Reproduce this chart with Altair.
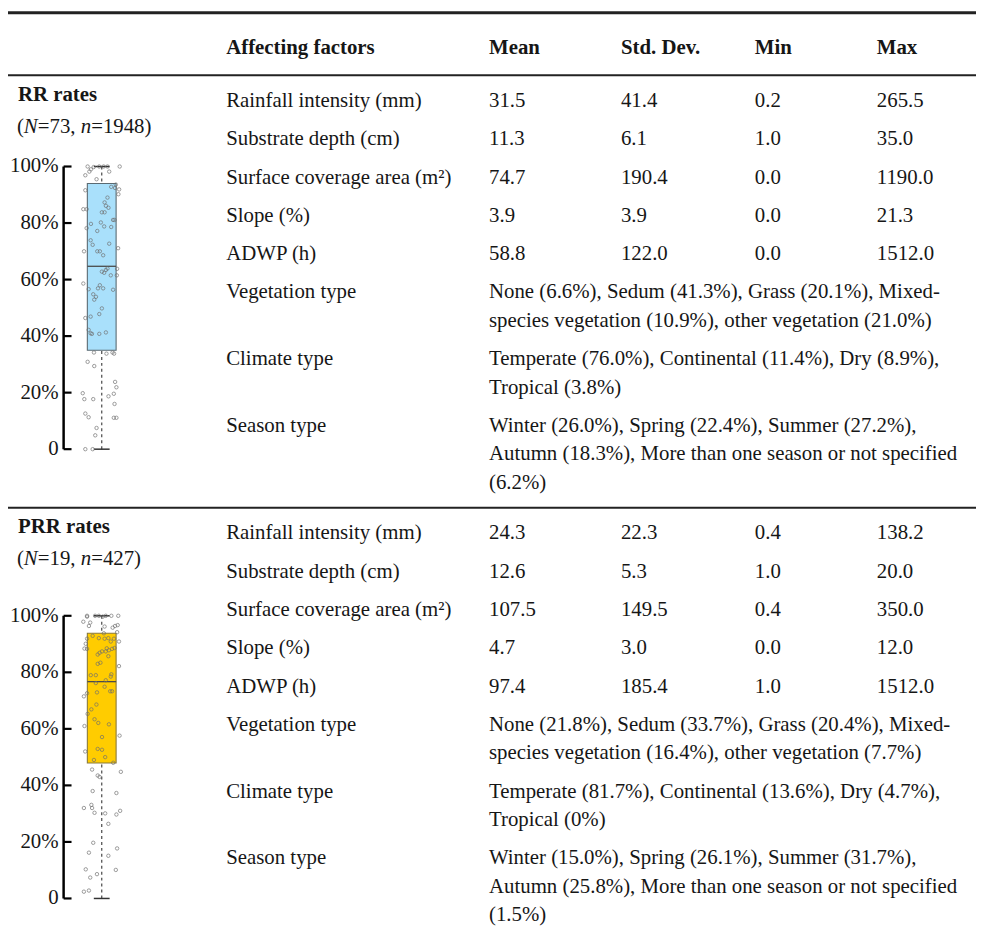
import altair as alt
import pandas as pd

# ------------------------------------------------------------------ data
headers = ["Affecting factors", "Mean", "Std. Dev.", "Min", "Max"]
factors = ["Rainfall intensity (mm)", "Substrate depth (cm)",
           "Surface coverage area (m²)", "Slope (%)", "ADWP (h)"]
cat_factors = ["Vegetation type", "Climate type", "Season type"]

rr_mean = [31.5, 11.3, 74.7, 3.9, 58.8]
rr_sd = [41.4, 6.1, 190.4, 3.9, 122.0]
rr_min = [0.2, 1.0, 0.0, 0.0, 0.0]
rr_max = [265.5, 35.0, 1190.0, 21.3, 1512.0]

prr_mean = [24.3, 12.6, 107.5, 4.7, 97.4]
prr_sd = [22.3, 5.3, 149.5, 3.0, 185.4]
prr_min = [0.4, 1.0, 0.4, 0.0, 1.0]
prr_max = [138.2, 20.0, 350.0, 12.0, 1512.0]

rr_cat = [
    ["None (6.6%), Sedum (41.3%), Grass (20.1%), Mixed-",
     "species vegetation (10.9%), other vegetation (21.0%)"],
    ["Temperate (76.0%), Continental (11.4%), Dry (8.9%),",
     "Tropical (3.8%)"],
    ["Winter (26.0%), Spring (22.4%), Summer (27.2%),",
     "Autumn (18.3%), More than one season or not specified",
     "(6.2%)"],
]
prr_cat = [
    ["None (21.8%), Sedum (33.7%), Grass (20.4%), Mixed-",
     "species vegetation (16.4%), other vegetation (7.7%)"],
    ["Temperate (81.7%), Continental (13.6%), Dry (4.7%),",
     "Tropical (0%)"],
    ["Winter (15.0%), Spring (26.1%), Summer (31.7%),",
     "Autumn (25.8%), More than one season or not specified",
     "(1.5%)"],
]

rr_title = "RR rates"
rr_sub = [("(", "n"), ("N", "i"), ("=73, ", "n"), ("n", "i"), ("=1948)", "n")]
prr_title = "PRR rates"
prr_sub = [("(", "n"), ("N", "i"), ("=19, ", "n"), ("n", "i"), (" =427)", "n")]

# box statistics (fraction)
rr_stats = {"lo": 0.0, "q1": 0.35, "med": 0.647, "q3": 0.94, "hi": 1.0}
prr_stats = {"lo": 0.0, "q1": 0.479, "med": 0.767, "q3": 0.938, "hi": 1.0}

# individual points: horizontal jitter (box half-widths) and value
rr_jit = [-0.98, -0.56, -0.17, 0.13, 0.40, 1.25, -0.86, -0.75, 0.52, -1.14,
          -0.36, 0.66, 0.93, 1.21, 0.98, -1.14, 1.16, 0.40, 0.20, 0.29,
          0.47, -1.28, -1.05, 0.01, 0.20, 0.79, 0.89, -0.75, -1.05, -0.06,
          0.17, 0.66, -0.31, -0.77, -0.63, 0.52, -1.23, -0.31, -0.13, 0.10,
          1.14, 1.07, 0.40, 0.29, 0.01, 0.17, 0.63, 1.05, -1.28, -0.13,
          -0.91, -0.26, 0.10, 0.79, -0.59, -0.40, -0.52, 0.01, -0.17, -1.14,
          -0.77, -0.91, -0.77, -0.68, -0.17, 0.29, -0.54, 0.33, 0.75, 0.86,
          -0.98, -0.52, -1.32, -1.21, -0.59, 0.47, 0.84, 0.93, 1.02, 0.89,
          -1.14, -0.91, 0.84, 1.02, -0.36, -0.45, -1.14, -0.63]
rr_val = [1.00, 0.998, 1.00, 1.00, 1.00, 1.00, 0.982, 0.99, 0.982, 0.969,
          0.955, 0.928, 0.924, 0.919, 0.936, 0.916, 0.902, 0.89, 0.873, 0.861,
          0.854, 0.849, 0.849, 0.838, 0.838, 0.811, 0.811, 0.797, 0.782, 0.802,
          0.788, 0.786, 0.772, 0.739, 0.723, 0.727, 0.70, 0.70, 0.70, 0.686,
          0.711, 0.638, 0.639, 0.634, 0.628, 0.624, 0.615, 0.615, 0.586, 0.58,
          0.566, 0.569, 0.569, 0.564, 0.548, 0.539, 0.529, 0.498, 0.478, 0.464,
          0.469, 0.422, 0.41, 0.408, 0.408, 0.413, 0.342, 0.338, 0.342, 0.338,
          0.309, 0.294, 0.198, 0.177, 0.177, 0.187, 0.196, 0.238, 0.219, 0.16,
          0.126, 0.113, 0.111, 0.111, 0.075, 0.049, 0.0, 0.0]

prr_jit = [-1.28, -1.02, -1.02, -0.46, -0.20, 0.07, 0.28, 0.67, 1.15, -0.89,
           -0.80, 0.20, 0.76, 0.93, 1.11, 1.07, 0.15, -0.63, -0.20, 0.20,
           0.46, 0.85, 0.63, -1.02, -1.11, -1.02, -1.20, 1.20, -0.15, -0.28,
           0.35, 0.02, 0.28, 0.50, 0.72, 0.89, 1.20, 0.46, -0.09, -0.28,
           -0.76, -0.41, -0.41, 0.67, 0.63, 0.28, -1.24, -1.02, -0.33, 0.20,
           0.59, 0.72, -0.98, -0.72, -0.37, -1.20, -0.50, -0.24, 0.50, 1.24,
           0.02, -1.15, -0.28, 0.02, 0.24, -0.54, 0.80, -0.67, -0.28, -0.15,
           1.33, -0.63, 1.02, -1.24, -0.72, -0.67, -0.50, 0.24, 0.46, 1.02,
           1.28, -0.59, -0.89, 0.46, 1.07, -1.11, -0.80, -0.33, 0.98, -1.24,
           -0.89]
prr_val = [0.979, 0.997, 1.0, 1.0, 1.0, 0.997, 1.0, 1.0, 1.0, 0.964,
           0.976, 0.962, 0.958, 0.964, 0.967, 0.942, 0.938, 0.929, 0.921, 0.919,
           0.921, 0.919, 0.909, 0.919, 0.901, 0.883, 0.884, 0.909, 0.869, 0.863,
           0.885, 0.874, 0.874, 0.878, 0.883, 0.886, 0.822, 0.857, 0.834, 0.83,
           0.79, 0.79, 0.762, 0.793, 0.785, 0.772, 0.715, 0.726, 0.729, 0.749,
           0.733, 0.733, 0.653, 0.669, 0.686, 0.61, 0.634, 0.621, 0.616, 0.576,
           0.571, 0.52, 0.529, 0.526, 0.50, 0.49, 0.48, 0.456, 0.435, 0.43,
           0.448, 0.38, 0.373, 0.32, 0.331, 0.32, 0.303, 0.301, 0.264, 0.297,
           0.31, 0.197, 0.162, 0.151, 0.177, 0.103, 0.074, 0.086, 0.101, 0.024,
           0.028]

tick_vals = [0.0, 0.2, 0.4, 0.6, 0.8, 1.0]
tick_labels = ["0", "20%", "40%", "60%", "80%", "100%"]

# ------------------------------------------------------------------ layout / style
FONT = "Liberation Serif"
FS = 21
INK = "#161616"
COL_X = [228, 493, 626, 761, 884]
LEFT_X = 17
HEADER_Y = 45
TOP_RULE_Y = 9
HEAD_RULE_Y = 72
FIRST_OFF = 26
PITCH = 38.6
LINE_H = 28.7
SEP_OFF = 25
TITLE_OFF = -6
SUB_OFF = 26
RR_PANEL = (449, 164)   # screen y of 0 and 100 %
PRR_PANEL = (902, 617)
BOX_L, BOX_R = 88, 117
AXIS_J, TICK_J, LABEL_J = -2.65, -2.1, -3.0
CAP_HALF = 0.55

# Times-metric advance widths (per 1000 em) for the mixed-style subtitle
ADV = {"(": 333, ")": 333, "=": 564, ",": 250, " ": 250}
ADV.update({d: 500 for d in "0123456789"})
ADV_IT = {"N": 667, "n": 500}

normal, bold, italic, rules = [], [], [], []

for i, h in enumerate(headers):
    bold.append((COL_X[i], HEADER_Y, h))
rules.append((8, 984, TOP_RULE_Y, 3))
rules.append((8, 984, HEAD_RULE_Y, 2))


def section(y_top, title, sub, means, sds, mins, maxs, cats):
    y = y_top + FIRST_OFF
    bold.append((LEFT_X + 1, y + TITLE_OFF, title))
    x = LEFT_X
    for seg, style in sub:
        (italic if style == "i" else normal).append((x, y + SUB_OFF, seg))
        if style == "i":
            x += sum(ADV_IT[c] for c in seg) * FS / 1000
        else:
            x += sum(ADV[c] for c in seg) * FS / 1000
    for i, f in enumerate(factors):
        normal.append((COL_X[0], y, f))
        for c, arr in zip(COL_X[1:], [means, sds, mins, maxs]):
            normal.append((c, y, f"{arr[i]:.1f}"))
        y += PITCH
    for f, lines in zip(cat_factors, cats):
        normal.append((COL_X[0], y, f))
        for k, ln in enumerate(lines):
            normal.append((COL_X[1], y + k * LINE_H, ln))
        y += (len(lines) - 1) * LINE_H + PITCH
    return y - PITCH + SEP_OFF


sep = section(HEAD_RULE_Y, rr_title, rr_sub, rr_mean, rr_sd, rr_min, rr_max, rr_cat)
rules.append((8, 984, sep, 2))
section(sep, prr_title, prr_sub, prr_mean, prr_sd, prr_min, prr_max, prr_cat)

W, H = 976, 924
xs_t = alt.Scale(domain=[8, 8 + W], nice=False, zero=False)
ys_t = alt.Scale(domain=[8, 8 + H], reverse=True, nice=False, zero=False)


def text_layer(rows, **kw):
    df = pd.DataFrame(rows, columns=["x", "y", "t"])
    return alt.Chart(df).mark_text(align="left", baseline="middle", font=FONT,
                                   fontSize=FS, color=INK, **kw).encode(
        x=alt.X("x:Q", scale=xs_t, axis=None),
        y=alt.Y("y:Q", scale=ys_t, axis=None),
        text="t:N")


rules_df = pd.DataFrame(rules, columns=["x", "x2", "y", "w"])
rule_layer = alt.Chart(rules_df).mark_rule(color="#222").encode(
    x=alt.X("x:Q", scale=xs_t, axis=None), x2="x2:Q",
    y=alt.Y("y:Q", scale=ys_t, axis=None),
    strokeWidth=alt.StrokeWidth("w:Q", scale=None))

table = alt.layer(rule_layer, text_layer(normal), text_layer(bold, fontWeight="bold"),
                  text_layer(italic, fontStyle="italic"))


def box_group(stats, jit, vals, fill, edge, panel):
    xs = alt.Scale(domain=[-1, 1], range=[BOX_L - 8, BOX_R - 8], nice=False, zero=False)
    ys = alt.Scale(domain=[0, 1], range=[panel[0] - 8, panel[1] - 8], nice=False, zero=False)
    X = lambda f: alt.X(f, scale=xs, axis=None)
    Y = lambda f: alt.Y(f, scale=ys, axis=None)

    whisk = pd.DataFrame({"x": [0], "y": [stats["lo"]], "y2": [stats["hi"]]})
    box = pd.DataFrame({"x": [-1], "x2": [1], "y": [stats["q1"]], "y2": [stats["q3"]]})
    med = pd.DataFrame({"x": [-1], "x2": [1], "y": [stats["med"]]})
    caps = pd.DataFrame({"x": [-CAP_HALF] * 2, "x2": [CAP_HALF] * 2,
                         "y": [stats["lo"], stats["hi"]]})
    pts = pd.DataFrame({"x": jit, "y": vals})
    ax_line = pd.DataFrame({"x": [AXIS_J], "y": [0.0], "y2": [1.0]})
    ticks = pd.DataFrame({"x": [AXIS_J] * len(tick_vals), "x2": [TICK_J] * len(tick_vals),
                          "y": tick_vals})
    labs = pd.DataFrame({"x": [LABEL_J] * len(tick_vals), "y": tick_vals, "t": tick_labels})

    layers = [
        alt.Chart(whisk).mark_rule(color="#555", strokeDash=[3, 3], strokeWidth=1.3).encode(
            x=X("x:Q"), y=Y("y:Q"), y2="y2:Q"),
        alt.Chart(box).mark_rect(fill=fill, stroke=edge, strokeWidth=1.1).encode(
            x=X("x:Q"), x2="x2:Q", y=Y("y:Q"), y2="y2:Q"),
        alt.Chart(med).mark_rule(color="#4a4a4a", strokeWidth=1.3).encode(
            x=X("x:Q"), x2="x2:Q", y=Y("y:Q")),
        alt.Chart(caps).mark_rule(color="#333", strokeWidth=1.5).encode(
            x=X("x:Q"), x2="x2:Q", y=Y("y:Q")),
        alt.Chart(pts).mark_point(shape="circle", filled=False, size=12, strokeWidth=0.8,
                                  color="#6f6f6f", opacity=0.85).encode(
            x=X("x:Q"), y=Y("y:Q")),
        alt.Chart(ax_line).mark_rule(color="#000", strokeWidth=2.5).encode(
            x=X("x:Q"), y=Y("y:Q"), y2="y2:Q"),
        alt.Chart(ticks).mark_rule(color="#000", strokeWidth=2.2).encode(
            x=X("x:Q"), x2="x2:Q", y=Y("y:Q")),
        alt.Chart(labs).mark_text(align="right", baseline="middle", font=FONT, fontSize=FS,
                                  color=INK).encode(
            x=X("x:Q"), y=Y("y:Q"), text="t:N"),
    ]
    return alt.layer(*layers)


rr_g = box_group(rr_stats, rr_jit, rr_val, "#a9e0fb", "#5a6a72", RR_PANEL)
prr_g = box_group(prr_stats, prr_jit, prr_val, "#ffcc00", "#8a7a3a", PRR_PANEL)

chart = (alt.layer(table, rr_g, prr_g)
         .resolve_scale(x="independent", y="independent")
         .properties(width=W, height=H, padding=0,
                     autosize=alt.AutoSizeParams(type="none"), background="white")
         .configure_view(stroke=None))

chart.save("out.html", embed_options={"renderer": "svg", "actions": False})
